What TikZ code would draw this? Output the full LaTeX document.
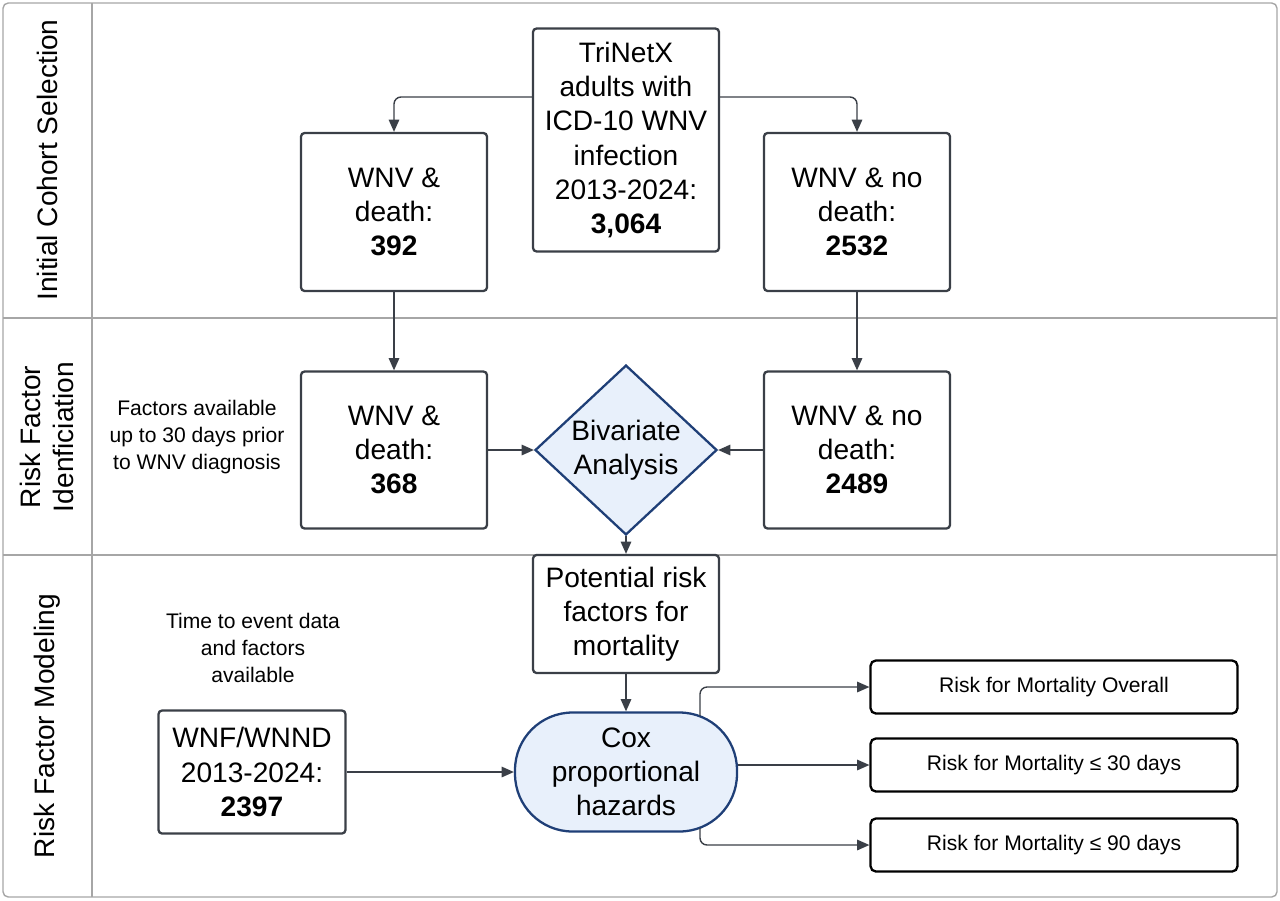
\documentclass[tikz,border=0pt]{standalone}
\usepackage{fontspec}
\setmainfont{Liberation Sans}
\usetikzlibrary{shapes.geometric,arrows.meta}
\definecolor{edge}{HTML}{3A3F47}
\definecolor{lblue}{HTML}{E8F0FB}
\definecolor{dblue}{HTML}{1F3F77}
\tikzset{
 px/.style={x=0.02cm,y=-0.02cm},
 box/.style={draw=edge,line width=1.3pt,rounded corners=2pt,align=center,font=\fontsize{16}{19.5}\selectfont,inner sep=0pt},
 rbox/.style={draw=black,line width=1.3pt,rounded corners=3pt,align=center,font=\fontsize{12}{14}\selectfont,minimum width=7.34cm,minimum height=1.06cm},
 note/.style={align=center,font=\fontsize{12}{15.5}\selectfont},
 arr/.style={draw=edge,line width=0.8pt,-{Triangle[length=7pt,width=6pt]},rounded corners=4pt},
 lane/.style={rotate=90,font=\fontsize{16}{19}\selectfont,align=center},
}
\begin{document}
\begin{tikzpicture}[px]
\useasboundingbox (0,0) rectangle (1280,900);
\draw[gray!70,line width=0.8pt,rounded corners=3pt] (3,3) rectangle (1277,897);
\draw[gray!70,line width=0.8pt] (92,3) -- (92,897) (3,318) -- (1277,318) (3,555) -- (1277,555);
\node[lane] at (47,160) {Initial Cohort Selection};
\node[lane] at (47,437) {Risk Factor\\Idenficiation};
\node[lane] at (47,726) {Risk Factor Modeling};

\node[box,minimum width=3.72cm,minimum height=4.46cm] (tri) at (626,140) {TriNetX\\adults with\\ICD-10 WNV\\infection\\2013-2024:\\\textbf{3,064}};
\node[box,minimum width=3.72cm,minimum height=3.16cm] (d1) at (394,212) {WNV \&\\death:\\\textbf{392}};
\node[box,minimum width=3.72cm,minimum height=3.16cm] (n1) at (857,212) {WNV \& no\\death:\\\textbf{2532}};
\node[box,minimum width=3.72cm,minimum height=3.14cm] (d2) at (394,450) {WNV \&\\death:\\\textbf{368}};
\node[box,minimum width=3.72cm,minimum height=3.14cm] (n2) at (857,450) {WNV \& no\\death:\\\textbf{2489}};
\node[diamond,draw=dblue,fill=lblue,line width=1.3pt,minimum width=3.64cm,minimum height=3.04cm,inner sep=0pt,align=center,font=\fontsize{16}{19.5}\selectfont] (biv) at (626,450) {Bivariate\\Analysis};
\node[box,minimum width=3.72cm,minimum height=2.36cm] (pot) at (626,614) {Potential risk\\factors for\\mortality};
\node[draw=dblue,fill=lblue,line width=1.3pt,rounded corners=1.15cm,minimum width=4.44cm,minimum height=2.38cm,align=center,font=\fontsize{16}{19.5}\selectfont,inner sep=0pt] (cox) at (626,772) {Cox\\proportional\\hazards};
\node[box,minimum width=3.74cm,minimum height=2.46cm] (wnf) at (252,772) {WNF/WNND\\2013-2024:\\\textbf{2397}};
\node[rbox] (r1) at (1054,687) {Risk for Mortality Overall};
\node[rbox] (r2) at (1054,765) {Risk for Mortality ≤ 30 days};
\node[rbox] (r3) at (1054,845) {Risk for Mortality ≤ 90 days};
\node[note] (f1) at (197,437) {Factors available\\up to 30 days prior\\to WNV diagnosis};
\node[note] (f2) at (253,648) {Time to event data\\and factors\\available};

\draw[arr] (tri.west|-0,97) -| (d1.north);
\draw[arr] (tri.east|-0,97) -| (n1.north);
\draw[arr] (d1) -- (d2);
\draw[arr] (n1) -- (n2);
\draw[arr] (d2) -- (biv);
\draw[arr] (n2) -- (biv);
\draw[arr] (biv) -- (pot);
\draw[arr] (pot) -- (cox);
\draw[arr] (wnf) -- (cox.west|-wnf);
\draw[arr] (700,716) |- (r1.west);
\draw[arr] (cox.east|-r2) -- (r2.west);
\draw[arr] (700,828) |- (r3.west);
\end{tikzpicture}
\end{document}
